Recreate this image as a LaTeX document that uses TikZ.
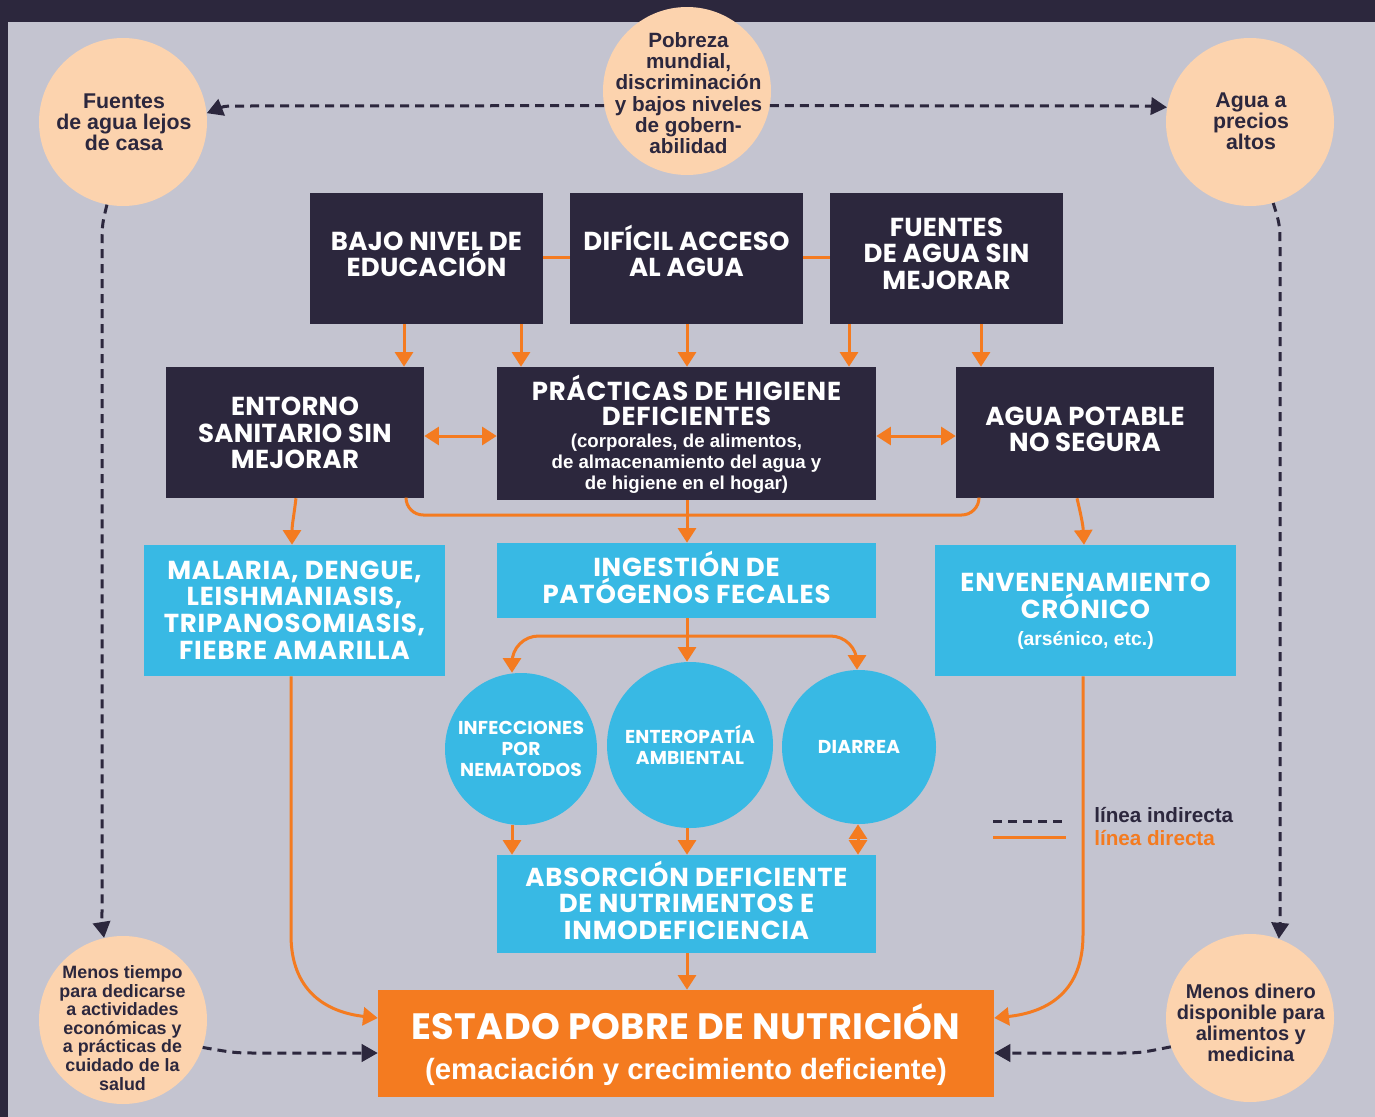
\documentclass[tikz,border=0pt]{standalone}
\usepackage{fontspec}
\setmainfont{Liberation Sans}
\newfontfamily\titlef{Poppins}[LetterSpace=1]
\newfontfamily\titlefw{Poppins}[LetterSpace=3]
\usetikzlibrary{arrows.meta}
\definecolor{navy}{HTML}{2C273D}
\definecolor{bggray}{HTML}{C4C4D0}
\definecolor{peach}{HTML}{FCD3AE}
\definecolor{cyanb}{HTML}{38B9E4}
\definecolor{orng}{HTML}{F47B20}
\newcommand{\tfnt}{\titlef\bfseries\fontsize{19.5}{20}\selectfont}
\newcommand{\tfntw}{\titlefw\bfseries\fontsize{19.5}{20}\selectfont}
\newcommand{\topst}[1]{\rule{0pt}{#1pt}}
\newcommand{\botst}[1]{\rule[-#1pt]{0pt}{0pt}}
\lineskiplimit=-100pt
\begin{document}
\begin{tikzpicture}[x=0.75pt,y=-0.75pt,
  tfont/.style={font=\tfnt},
  tfontw/.style={font=\tfntw},
  dbox/.style={rectangle, fill=navy, text=white, inner sep=0pt, align=center},
  cbox/.style={rectangle, fill=cyanb, text=white, inner sep=0pt, align=center},
  pcirc/.style={circle, fill=peach, minimum size=126pt, inner sep=0pt},
  ptext/.style={text=navy, inner sep=0pt, align=center},
  ccirc/.style={circle, fill=cyanb, text=white, inner sep=0pt, align=center, font=\titlef\bfseries\fontsize{14}{15.75}\selectfont},
  oline/.style={draw=orng, line width=2.25pt},
  oarrow/.style={oline, -{Triangle[width=13.5pt,length=11pt]}},
  obiarrow/.style={oline, {Triangle[width=13.5pt,length=11pt]}-{Triangle[width=13.5pt,length=11pt]}},
  dline/.style={draw=navy, line width=2.25pt, dash pattern=on 6.75pt off 4.5pt},
  darrow/.style={dline, -{Triangle[width=13pt,length=12pt]}},
]
\useasboundingbox (0,0) rectangle (1375,1117);
\fill[navy] (0,0) rectangle (1375,1117);
\fill[bggray] (8,22) rectangle (1375,1117);

% peach circles
\node[pcirc] (flejos) at (123,122) {};
\node[pcirc] (pobreza) at (687,91) {};
\node[pcirc] (precios) at (1250,122) {};
\node[pcirc] (tiempo) at (123,1020) {};
\node[pcirc] (dinero) at (1250,1018) {};
\node[ptext, font=\bfseries\fontsize{16}{16}\selectfont] (flejos-t) at (124,129.5) {\topst{15}Fuentes\\de agua lejos\\de casa\botst{15}};
\node[ptext, font=\bfseries\fontsize{15.5}{15.9}\selectfont] (pobreza-t) at (688.5,100.5) {\topst{15}Pobreza\\mundial,\\discriminación\\y bajos niveles\\de gobern-\\abilidad\botst{15}};
\node[ptext, font=\bfseries\fontsize{16}{15.86}\selectfont] (precios-t) at (1251,128.5) {\topst{15}Agua a\\precios\\altos\botst{15}};
\node[ptext, font=\bfseries\fontsize{13.4}{13.95}\selectfont] (tiempo-t) at (122.5,1034.2) {\topst{15}Menos tiempo\\para dedicarse\\a actividades\\económicas y\\a prácticas de\\cuidado de la\\salud\botst{15}};
\node[ptext, font=\bfseries\fontsize{15}{15.85}\selectfont] (dinero-t) at (1250.8,1030) {\topst{15}Menos dinero\\disponible para\\alimentos y\\medicina\botst{15}};

% dark boxes
\node[dbox, tfont, minimum width=174.75pt, minimum height=98.25pt] (bajo) at (426.5,258.5) {\topst{19.5}BAJO NIVEL DE\\EDUCACIÓN\botst{12.2}};
\node[dbox, tfont, minimum width=174.75pt, minimum height=98.25pt] (dificil) at (686.5,258.5) {\topst{19.5}DIFÍCIL ACCESO\\AL AGUA\botst{12.2}};
\node[dbox, tfont, minimum width=174.75pt, minimum height=98.25pt] (fsin) at (946.5,258.5) {\topst{19.5}FUENTES\\DE AGUA SIN\\MEJORAR\botst{12.9}};
\node[dbox, tfont, minimum width=193.5pt, minimum height=98.25pt] (entorno) at (295,432.5) {\topst{22.5}ENTORNO\\SANITARIO SIN\\MEJORAR\botst{8}};
\node[dbox, font=\bfseries\fontsize{14}{16}\selectfont, minimum width=284.25pt, minimum height=99.75pt] (pract) at (686.5,433.5) {\topst{22.5}{\tfntw PRÁCTICAS DE HIGIENE}\\[2.75pt]{\tfntw DEFICIENTES}\\[0.5pt](corporales, de alimentos,\\de almacenamiento del agua y\\de higiene en el hogar)\botst{5.25}};
\node[dbox, tfont, minimum width=193.5pt, minimum height=98.25pt] (apot) at (1085,432.5) {\topst{19.5}AGUA POTABLE\\NO SEGURA\botst{10.7}};

% cyan boxes
\node[cbox, tfontw, minimum width=225.75pt, minimum height=98.25pt] (malaria) at (294.5,610.5) {\topst{19.5}MALARIA, DENGUE,\\LEISHMANIASIS,\\TRIPANOSOMIASIS,\\FIEBRE AMARILLA\botst{6.3}};
\node[cbox, tfontw, minimum width=284.25pt, minimum height=56.25pt] (ingest) at (686.5,580.5) {\topst{21}INGESTIÓN DE\\PATÓGENOS FECALES\botst{7.1}};
\node[cbox, font=\bfseries\fontsize{14.5}{20}\selectfont, minimum width=225.75pt, minimum height=98.25pt] (enven) at (1085.5,610.5) {\topst{19.5}{\tfntw ENVENENAMIENTO}\\{\tfntw CRÓNICO}\\(arsénico, etc.)\botst{7.7}};
\node[cbox, tfontw, minimum width=284.25pt, minimum height=73.5pt] (absor) at (686.5,904) {\topst{21}ABSORCIÓN DEFICIENTE\\DE NUTRIMENTOS E\\INMODEFICIENCIA\botst{7.9}};

% cyan circles
\node[ccirc, minimum size=114pt] (infec) at (521,749) {INFECCIONES\\POR\\NEMATODOS};
\node[ccirc, minimum size=124.5pt] (entero) at (690,745) {ENTEROPATÍA\\AMBIENTAL};
\node[ccirc, minimum size=115.5pt] (diarr) at (859,747) {DIARREA};

% orange result box
\node[rectangle, fill=orng, text=white, inner sep=0pt, align=center, font=\bfseries\fontsize{22}{30}\selectfont, minimum width=462pt, minimum height=80.25pt] (estado) at (686,1043.5) {\topst{30}{\titlef\bfseries\fontsize{27.5}{30}\selectfont ESTADO POBRE DE NUTRICIÓN}\\(emaciación y crecimiento deficiente)\botst{5.8}};

% orange connectors
\draw[oline] (bajo.east |- 0,257) -- (dificil.west |- 0,257);
\draw[oline] (dificil.east |- 0,257) -- (fsin.west |- 0,257);
\draw[oarrow] (bajo.south -| 404,0) -- (entorno.north -| 404,0);
\draw[oarrow] (bajo.south -| 521,0) -- (pract.north -| 521,0);
\draw[oarrow] (dificil.south -| 687,0) -- (pract.north -| 687,0);
\draw[oarrow] (fsin.south -| 849,0) -- (pract.north -| 849,0);
\draw[oarrow] (fsin.south -| 981,0) -- (apot.north -| 981,0);
\draw[obiarrow] (entorno.east |- 0,436) -- (pract.west |- 0,436);
\draw[obiarrow] (pract.east |- 0,436) -- (apot.west |- 0,436);
\draw[oline, rounded corners=13pt] (entorno.south -| 406,0) |- (pract.south |- 0,515) -| (apot.south -| 979,0);
\draw[oarrow] (pract.south -| 687,0) -- (ingest.north -| 687,0);
\draw[oarrow] (entorno.south -| 296,0) .. controls (294,515) and (292,525) .. (malaria.north -| 292,0);
\draw[oarrow] (apot.south -| 1077,0) .. controls (1081,515) and (1083,525) .. (enven.north -| 1084,0);
\draw[oarrow] (ingest.south -| 687,0) -- (entero.north -| 687,0);
\draw[obiarrow, rounded corners=20pt] (infec.north -| 512,0) |- (ingest.south |- 0,636) -| (diarr.north -| 857,0);
\draw[oarrow] (infec.south -| 512,0) -- (absor.north -| 512,0);
\draw[oarrow] (entero.south -| 687,0) -- (absor.north -| 687,0);
\draw[obiarrow] (diarr.south -| 858,0) -- (absor.north -| 858,0);
\draw[oarrow] (absor.south -| 687,0) -- (estado.north -| 687,0);
\draw[oarrow] (malaria.south -| 291,0) -- (291,935) .. controls (291,990) and (325,1012) .. (estado.west |- 0,1018);
\draw[oarrow] (enven.south -| 1083,0) -- (1083,935) .. controls (1083,990) and (1050,1012) .. (estado.east |- 0,1018);

% dashed connectors
\draw[darrow] (pobreza.190) -- (250,106) .. controls (225,106) .. (flejos.6);
\draw[darrow] (pobreza.-10) -- (1125,106) .. controls (1150,106) .. (precios.170);
\draw[darrow] (flejos.259) .. controls (102,225) .. (102,250) -- (102,905) .. controls (102,925) .. (tiempo.103);
\draw[darrow] (precios.-74) .. controls (1280,225) .. (1280,250) -- (1280,905) .. controls (1280,925) .. (dinero.70);
\draw[darrow] (tiempo.-19) .. controls (235,1053) .. (260,1053) -- (estado.west |- 0,1053);
\draw[darrow] (dinero.200) .. controls (1140,1053) .. (1115,1053) -- (estado.east |- 0,1053);

% legend
\draw[dline] (993,821) -- (1066,821);
\draw[oline] (993,837) -- (1066,837);
\node[anchor=base west, inner sep=0pt, text=navy, font=\bfseries\fontsize{15.5}{15.5}\selectfont] (legind) at (1094,822) {línea indirecta};
\node[anchor=base west, inner sep=0pt, text=orng, font=\bfseries\fontsize{15.5}{15.5}\selectfont] (legdir) at (1094,845) {línea directa};
\end{tikzpicture}
\end{document}
